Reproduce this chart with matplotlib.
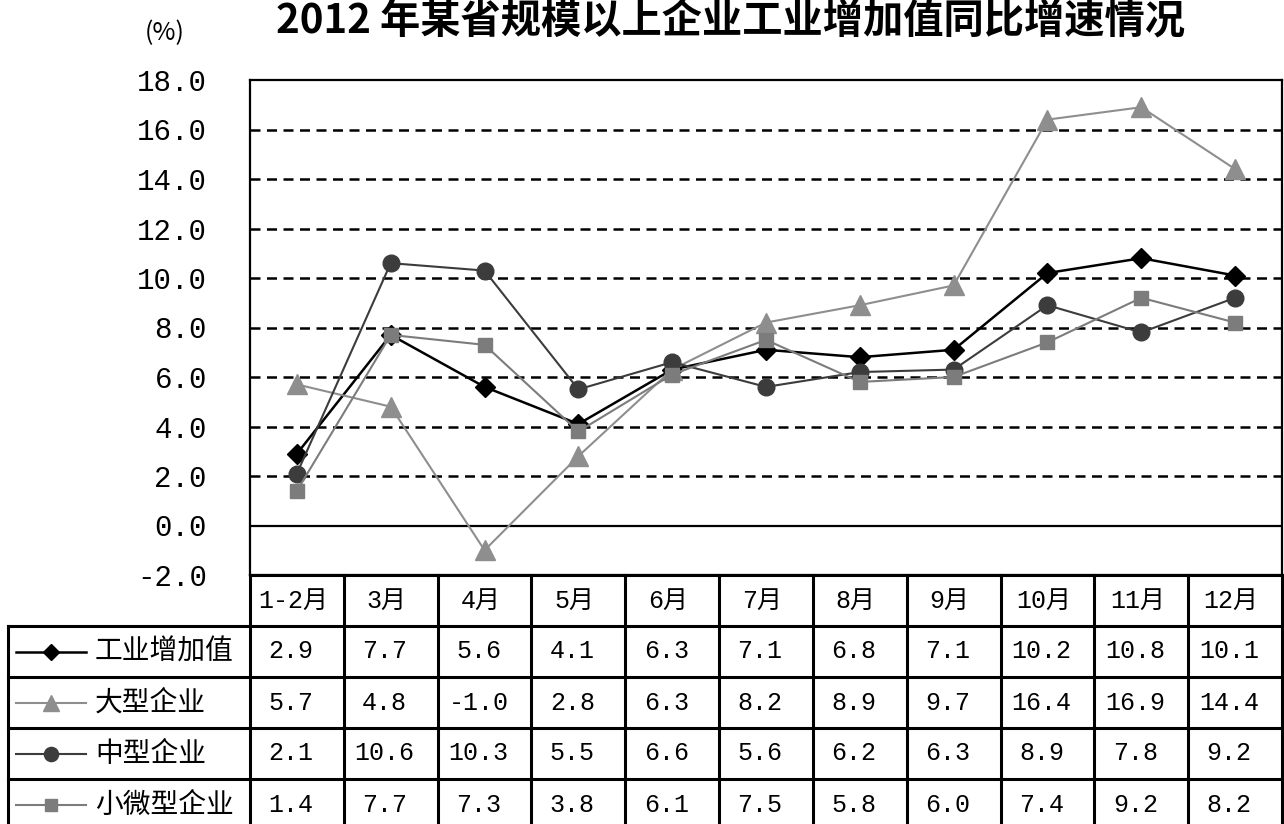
import matplotlib.pyplot as plt

plt.rcParams['font.family'] = ['Noto Sans CJK SC', 'DejaVu Sans']

TITLE = '2012 年某省规模以上企业工业增加值同比增速情况'
months = ['1-2月', '3月', '4月', '5月', '6月', '7月', '8月', '9月', '10月', '11月', '12月']
names = ['工业增加值', '大型企业', '中型企业', '小微型企业']
total = [2.9, 7.7, 5.6, 4.1, 6.3, 7.1, 6.8, 7.1, 10.2, 10.8, 10.1]
large = [5.7, 4.8, -1.0, 2.8, 6.3, 8.2, 8.9, 9.7, 16.4, 16.9, 14.4]
medium = [2.1, 10.6, 10.3, 5.5, 6.6, 5.6, 6.2, 6.3, 8.9, 7.8, 9.2]
small = [1.4, 7.7, 7.3, 3.8, 6.1, 7.5, 5.8, 6.0, 7.4, 9.2, 8.2]
yticks = [-2.0, 0.0, 2.0, 4.0, 6.0, 8.0, 10.0, 12.0, 14.0, 16.0, 18.0]

series = [total, large, medium, small]
styles = [
    dict(color='#000000', marker='D', ms=10, lw=1.8),
    dict(color='#8e8e8e', marker='^', ms=14, lw=1.5),
    dict(color='#3c3c3c', marker='o', ms=12, lw=1.5),
    dict(color='#7c7c7c', marker='s', ms=10, lw=1.5),
]

W, H = 1284, 824
fig = plt.figure(figsize=(W / 100, H / 100), dpi=100)

# pixel layout
XL, XA, XB = 8, 250, 1282
YT, YB = 80, 575
ROW = 51

ax = fig.add_axes([XA / W, 1 - YB / H, (XB - XA) / W, (YB - YT) / H])
x = list(range(len(months)))
for vals, st in zip(series, styles):
    ax.plot(x, vals, zorder=3, **st)

ax.set_xlim(-0.5, len(months) - 0.5)
ax.set_ylim(yticks[0], yticks[-1])
ax.set_yticks(yticks)
ax.set_yticklabels([f'{t:.1f}' for t in yticks], family='Liberation Mono', fontsize=21)
ax.set_xticks([])
ax.tick_params(axis='y', length=0, pad=31)
for t in yticks[1:-1]:
    if t == 0:
        ax.axhline(t, color='black', lw=1.6, zorder=1)
    else:
        ax.axhline(t, color='black', lw=1.8, ls=(0, (4, 2.6)), zorder=1)
for s in ax.spines.values():
    s.set_linewidth(1.6)
    s.set_color('black')

fig.text(731 / W, 1 - 22 / H, TITLE, ha='center', va='center', fontsize=29, fontweight='bold')
fig.text(165 / W, 1 - 33 / H, '(%)', ha='center', va='center', fontsize=18)

# data table drawn under the plot
tab = fig.add_axes([0, 0, 1, 1])
tab.set_xlim(0, W)
tab.set_ylim(H, 0)
tab.axis('off')
cw = (XB - XA) / len(months)
ybot = YB + ROW * (len(names) + 1)
lk = dict(color='black', lw=2.2, solid_capstyle='projecting')

tab.plot([XA, XB], [YB, YB], **lk)
for r in range(len(names) + 1):
    yy = YB + ROW * (r + 1)
    tab.plot([XL, XB], [yy, yy], **lk)
for c in range(len(months) + 1):
    xx = XA + cw * c
    tab.plot([xx, xx], [YB, ybot], **lk)
tab.plot([XL, XL], [YB + ROW, ybot], **lk)

for c, m in enumerate(months):
    tab.text(XA + cw * (c + 0.5) - 4, YB + ROW / 2, m, ha='center', va='center',
             fontsize=18, family=['Liberation Mono', 'Noto Sans CJK SC'])

for r, (nm, vals, st) in enumerate(zip(names, series, styles)):
    yc = YB + ROW * (r + 1.5)
    tab.plot([16, 86], [yc, yc], color=st['color'], lw=st['lw'])
    tab.plot([51], [yc], color=st['color'], marker=st['marker'], ms=st['ms'] * 0.85, ls='none')
    tab.text(95, yc, nm, ha='left', va='center', fontsize=20)
    for c, v in enumerate(vals):
        tab.text(XA + cw * (c + 0.5) - 6, yc, f'{v:.1f}', ha='center', va='center',
                 fontsize=18, family='Liberation Mono')

fig.savefig('out.png', dpi=100, facecolor='white')
